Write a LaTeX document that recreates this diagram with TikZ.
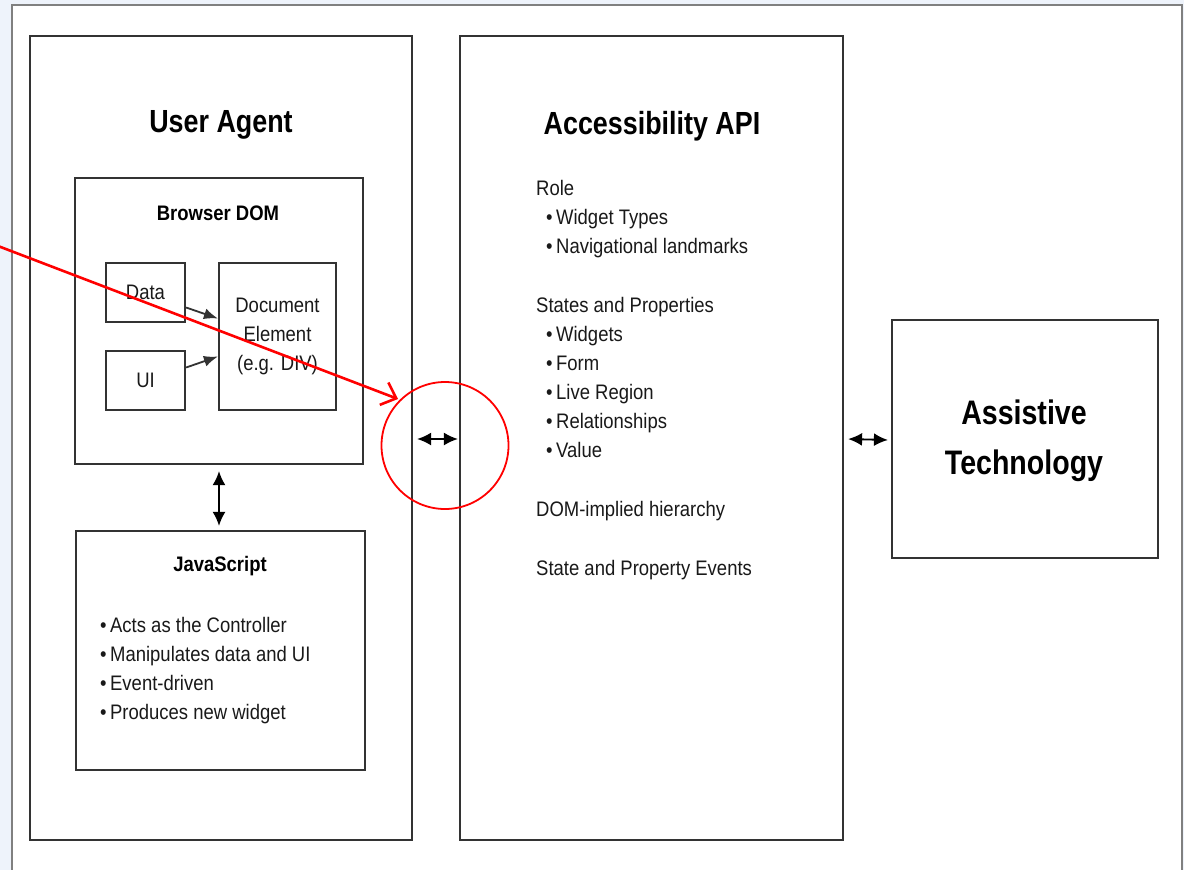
\documentclass[tikz,border=0pt]{standalone}
\usepackage{fontspec}
\setmainfont{Liberation Sans}
\newfontfamily\bodyf[FakeStretch=0.88]{Liberation Sans}
\newfontfamily\titlef[FakeStretch=0.84]{Liberation Sans}
\usetikzlibrary{arrows.meta,calc}
\definecolor{bgblue}{HTML}{EEF3FB}
\definecolor{framegray}{HTML}{808080}
\definecolor{boxgray}{HTML}{333333}
\definecolor{redline}{HTML}{FF0000}
\begin{document}
\begin{tikzpicture}[x=1pt,y=-1pt,
  box/.style={draw=boxgray,line width=2.2pt,inner sep=0pt,fill=white},
  bodytext/.style={font=\bodyf\fontsize{21}{29}\selectfont,text=black!90},
  item/.style={bodytext,anchor=base west,inner sep=0pt},
  title/.style={font=\titlef\bfseries\fontsize{32}{40}\selectfont,inner sep=0pt},
  sub/.style={font=\bodyf\bfseries\fontsize{21}{29}\selectfont,inner sep=0pt},
  arr/.style={line width=1.8pt,draw=boxgray,-{Latex[length=14pt,width=11pt]}},
  dbl/.style={line width=1.8pt,draw=black,{Latex[length=14pt,width=13pt]}-{Latex[length=14pt,width=13pt]}},
  redarr/.style={draw=redline,line width=2.6pt,-{Straight Barb[length=13pt,width=24pt,line width=2.6pt]}}
]
\useasboundingbox (0,0) rectangle (1184,870);
\fill[bgblue] (0,0) rectangle (1184,870);
\fill[white] (12,5) rectangle (1182,870);
\draw[framegray,line width=2pt] (12,872) -- (12,5) -- (1182,5) -- (1182,872);

% main boxes
\node[box,minimum width=382pt,minimum height=804pt] (ua) at (221,438) {};
\node[box,minimum width=383pt,minimum height=804pt] (api) at (651.5,438) {};
\node[box,minimum width=266pt,minimum height=238pt] (at) at (1025,439) {};

% user agent contents
\node[title] (uat) at (221,125) {User Agent};
\node[box,minimum width=288pt,minimum height=286pt] (dom) at (219,321) {};
\node[sub] (domt) at (218,213) {Browser DOM};
\node[box,bodytext,minimum width=79pt,minimum height=59pt] (data) at (145.5,292.5) {Data};
\node[box,bodytext,minimum width=79pt,minimum height=59pt] (ui) at (145.5,380.5) {UI};
\node[box,bodytext,minimum width=117pt,minimum height=147pt,align=center] (doc) at (277.5,336.5) {Document\\Element\\(e.g. DIV)};
\draw[arr] ([yshift=-15pt]data.east) -- ([yshift=18pt]doc.west);
\draw[arr] ([yshift=13pt]ui.east) -- ([yshift=-20pt]doc.west);

\node[box,minimum width=289pt,minimum height=239pt] (js) at (220.5,650.5) {};
\node[sub] (jst) at (220,566) {JavaScript};
\node[item] (j1) at (100,632) {•\,Acts as the Controller};
\node[item] (j2) at (100,661) {•\,Manipulates data and UI};
\node[item] (j3) at (100,690) {•\,Event-driven};
\node[item] (j4) at (100,719) {•\,Produces new widget};
\draw[dbl] ([yshift=-6pt]dom.south) -- ([yshift=4pt]js.north -| dom.south);

% accessibility api contents
\node[title] (apit) at (652,126) {Accessibility API};
\node[item] (a1) at (536,195) {Role};
\node[item] (a2) at (546,224) {•\,Widget Types};
\node[item] (a3) at (546,253) {•\,Navigational landmarks};
\node[item] (a4) at (536,312) {States and Properties};
\node[item] (a5) at (546,341) {•\,Widgets};
\node[item] (a6) at (546,370) {•\,Form};
\node[item] (a7) at (546,399) {•\,Live Region};
\node[item] (a8) at (546,428) {•\,Relationships};
\node[item] (a9) at (546,457) {•\,Value};
\node[item] (a10) at (536,516) {DOM-implied hierarchy};
\node[item] (a11) at (536,575) {State and Property Events};

% assistive technology
\node[font=\titlef\bfseries\fontsize{34}{50}\selectfont,align=center,inner sep=0pt] (att) at (1024,441) {Assistive\\Technology};

% connectors between columns
\draw[dbl] ([shift={(4pt,-1pt)}]ua.east) -- ([shift={(-1pt,-1pt)}]api.west);
\draw[dbl] ([shift={(4pt,-1pt)}]api.east) -- ([shift={(-3pt,-1pt)}]at.west);

% red annotation
\node[draw=redline,line width=1.8pt,circle,minimum size=127pt,inner sep=0pt] (circ) at (445,445.5) {};
\coordinate (rs) at (-2,246);
\coordinate (rt) at (398,399);
\draw[redarr] (rs) -- (rt);
\end{tikzpicture}
\end{document}
